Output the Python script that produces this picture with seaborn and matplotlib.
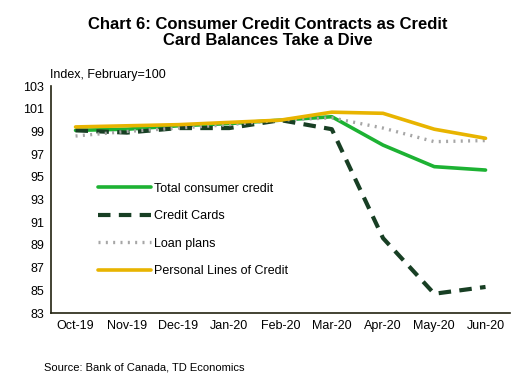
import matplotlib
matplotlib.use("Agg")
import matplotlib.pyplot as plt
import seaborn as sns
import pandas as pd

months = ["Oct-19", "Nov-19", "Dec-19", "Jan-20", "Feb-20", "Mar-20", "Apr-20", "May-20", "Jun-20"]
total_credit = [99.1, 99.2, 99.5, 99.7, 100.0, 100.3, 97.8, 95.9, 95.6]
credit_cards = [99.1, 98.9, 99.3, 99.3, 100.0, 99.2, 89.6, 84.7, 85.3]
loan_plans = [98.6, 99.0, 99.3, 99.6, 100.0, 100.2, 99.3, 98.1, 98.2]
ploc = [99.4, 99.5, 99.6, 99.8, 100.0, 100.7, 100.6, 99.2, 98.4]

series_names = ["Total consumer credit", "Credit Cards", "Loan plans", "Personal Lines of Credit"]
series_values = [total_credit, credit_cards, loan_plans, ploc]

sns.set_theme(style="white")
plt.rcParams['font.family'] = ['Liberation Sans', 'DejaVu Sans']
plt.rcParams['text.color'] = 'black'

fig = plt.figure(figsize=(5.2, 3.86), dpi=100)
ax = fig.add_axes([0.098, 0.189, 0.883, 0.588])

styles = {
    "Total consumer credit": dict(color="#1DB233", lw=2.6, ls="-"),
    "Credit Cards": dict(color="#183F24", lw=3.0, ls=(0, (3, 2))),
    "Loan plans": dict(color="#A6A6A6", lw=2.4, ls=(0, (0.6, 1.6))),
    "Personal Lines of Credit": dict(color="#E8B400", lw=2.6, ls="-"),
}

for name, vals in zip(series_names, series_values):
    df = pd.DataFrame({"x": range(len(months)), "y": vals})
    st = styles[name]
    sns.lineplot(data=df, x="x", y="y", ax=ax, color=st["color"], linewidth=st["lw"],
                 linestyle=st["ls"], label=name, dash_capstyle="butt")

ax.set_xlim(-0.48, len(months) - 0.52)
ax.set_ylim(83, 103)
ax.set_yticks(range(83, 104, 2))
ax.set_xticks(range(len(months)))
ax.set_xticklabels(months)
ax.tick_params(axis="both", labelsize=9, colors="black", length=0, pad=5)
ax.set_xlabel("")
ax.set_ylabel("")
for s in ["top", "right"]:
    ax.spines[s].set_visible(False)
for s in ["left", "bottom"]:
    ax.spines[s].set_color("#222211")
    ax.spines[s].set_linewidth(1.2)

leg = ax.legend(loc="upper left", bbox_to_anchor=(0.092, 0.597), frameon=False, fontsize=9,
                handlelength=4.2, handletextpad=0.3, labelspacing=1.25, borderaxespad=0)
for t in leg.get_texts():
    t.set_color("black")

fig.text(0.515, 0.955, "Chart 6: Consumer Credit Contracts as Credit\nCard Balances Take a Dive",
         ha="center", va="top", fontsize=12, fontweight="bold", linespacing=1.05, color="black")
fig.text(0.096, 0.805, "Index, February=100", ha="left", va="center", fontsize=9, color="black")
fig.text(0.085, 0.047, "Source: Bank of Canada, TD Economics", ha="left", va="center", fontsize=8,
         color="black")

fig.savefig("out.png", dpi=100)
